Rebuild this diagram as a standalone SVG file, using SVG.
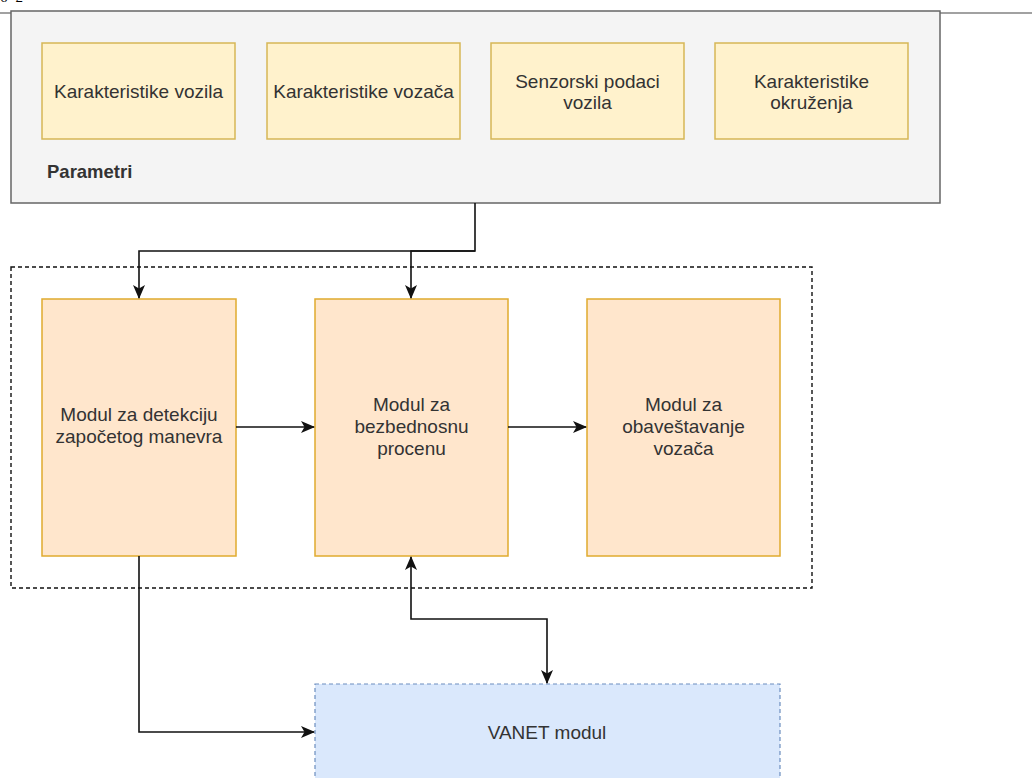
<svg xmlns="http://www.w3.org/2000/svg" width="1032" height="778" viewBox="0 0 1032 778">
  <style>
    .t { font-family: "Liberation Sans", Arial, sans-serif; font-size: 19px; fill: #333333; text-anchor: middle; }
    .yel { fill: #fff2cc; stroke: #d6b656; stroke-width: 1.5; }
    .org { fill: #ffe6cc; stroke: #e0ab2e; stroke-width: 1.5; }
    .con { fill: none; stroke: #111111; stroke-width: 1.6; }
  </style>
  <defs>
    <marker id="arr" viewBox="0 0 14 12" refX="13" refY="6" markerWidth="14" markerHeight="12" markerUnits="userSpaceOnUse" orient="auto-start-reverse">
      <path d="M0,0 L14,6 L0,12 L3.5,6 Z" fill="#111111"/>
    </marker>
  </defs>
  <rect width="1032" height="778" fill="#ffffff"/>
  <text x="0" y="1.5" font-family="Liberation Serif, serif" font-size="15" letter-spacing="8" fill="#000">62</text>
  <line x1="0" y1="13" x2="1032" y2="13" stroke="#444444" stroke-width="1.2"/>

  <g id="parametri">
    <rect x="11" y="11" width="929" height="192" fill="#f4f4f4" stroke="#666666" stroke-width="1.5"/>
    <text x="47" y="178" font-family="Liberation Sans, Arial, sans-serif" font-size="18.5" font-weight="bold" fill="#333333">Parametri</text>
  </g>
  <g id="kar-vozila">
    <rect class="yel" x="42" y="43" width="193" height="96"/>
    <text class="t" x="138.5" y="98">Karakteristike vozila</text>
  </g>
  <g id="kar-vozaca">
    <rect class="yel" x="267" y="43" width="193" height="96"/>
    <text class="t" x="363.5" y="98">Karakteristike vozača</text>
  </g>
  <g id="senzorski">
    <rect class="yel" x="491" y="43" width="193" height="96"/>
    <text class="t" x="587.5" y="88">Senzorski podaci</text>
    <text class="t" x="587.5" y="109">vozila</text>
  </g>
  <g id="kar-okruzenja">
    <rect class="yel" x="715" y="43" width="193" height="96"/>
    <text class="t" x="811.5" y="88">Karakteristike</text>
    <text class="t" x="811.5" y="109">okruženja</text>
  </g>

  <g id="container">
    <rect x="11" y="267" width="801" height="321" fill="none" stroke="#111111" stroke-width="1.4" stroke-dasharray="4 3"/>
  </g>
  <g id="detekcija">
    <rect class="org" x="42" y="299" width="194" height="257"/>
    <text class="t" x="139" y="421">Modul za detekciju</text>
    <text class="t" x="139" y="443">započetog manevra</text>
  </g>
  <g id="procena">
    <rect class="org" x="315" y="299" width="193" height="257"/>
    <text class="t" x="411.5" y="411">Modul za</text>
    <text class="t" x="411.5" y="433">bezbednosnu</text>
    <text class="t" x="411.5" y="455">procenu</text>
  </g>
  <g id="obavestavanje">
    <rect class="org" x="587" y="299" width="193" height="257"/>
    <text class="t" x="683.5" y="411">Modul za</text>
    <text class="t" x="683.5" y="433">obaveštavanje</text>
    <text class="t" x="683.5" y="455">vozača</text>
  </g>
  <g id="vanet">
    <rect x="315" y="684" width="465" height="120" fill="#dae8fc" stroke="#6c8ebf" stroke-width="1.2" stroke-dasharray="4 3"/>
    <text class="t" x="547" y="739">VANET modul</text>
  </g>

  <g id="connectors">
    <path class="con" d="M475,203 L475,251 L139,251 L139,298" marker-end="url(#arr)"/>
    <path class="con" d="M475,251 L411,251 L411,298" marker-end="url(#arr)"/>
    <path class="con" d="M236,427 L314,427" marker-end="url(#arr)"/>
    <path class="con" d="M508,427 L586,427" marker-end="url(#arr)"/>
    <path class="con" d="M139,556 L139,732 L314,732" stroke="#333333" marker-end="url(#arr)"/>
    <path class="con" d="M411,557 L411,619 L547,619 L547,683" marker-start="url(#arr)" marker-end="url(#arr)"/>
  </g>
</svg>
